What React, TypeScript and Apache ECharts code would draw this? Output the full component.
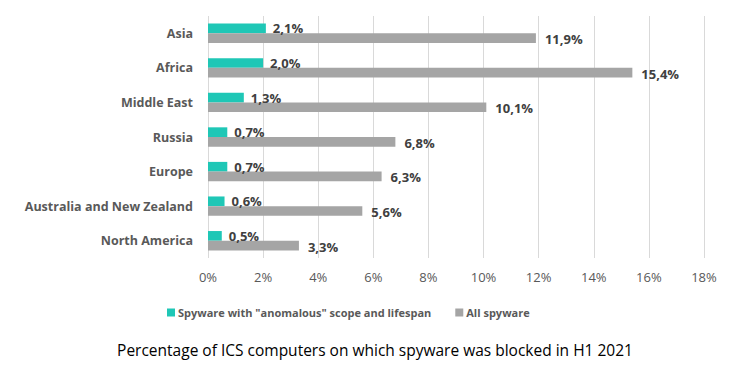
import React, { useEffect, useRef } from "react";
import * as echarts from "echarts";

const categories = ["Asia", "Africa", "Middle East", "Russia", "Europe", "Australia and New Zealand", "North America"];
const anomalous = [2.1, 2.0, 1.3, 0.7, 0.7, 0.6, 0.5];
const allSpyware = [11.9, 15.4, 10.1, 6.8, 6.3, 5.6, 3.3];
const seriesNames = ['Spyware with "anomalous" scope and lifespan', "All spyware"];
const title = "Percentage of ICS computers on which spyware was blocked in H1 2021";

const fmt = (v: number) => v.toFixed(1).replace(".", ",") + "%";
const FONT = "'Open Sans', 'Noto Sans', sans-serif";

export default function App() {
  const ref = useRef<HTMLDivElement>(null);
  useEffect(() => {
    if (!ref.current) return;
    const chart = echarts.init(ref.current, null, { renderer: "svg" });
    chart.setOption({
      animation: false,
      backgroundColor: "#ffffff",
      textStyle: { fontFamily: FONT },
      title: {
        text: title,
        left: "center",
        top: 337,
        textStyle: { fontFamily: FONT, fontSize: 15.5, fontWeight: "normal", color: "#000000" },
      },
      legend: {
        data: seriesNames,
        top: 302,
        left: 162,
        itemWidth: 8,
        itemHeight: 8,
        itemGap: 24,
        icon: "rect",
        textStyle: { fontFamily: FONT, fontSize: 11, fontWeight: "bold", color: "#595959", padding: [0, 0, 0, -2] },
      },
      grid: { left: 208, right: 46, top: 16, bottom: 110, containLabel: false },
      xAxis: {
        type: "value",
        min: 0,
        max: 18,
        interval: 2,
        axisLine: { show: false },
        axisTick: { show: false },
        axisLabel: {
          formatter: (v: number) => v + "%",
          fontFamily: FONT,
          fontSize: 13,
          color: "#595959",
          margin: 12,
        },
        splitLine: { lineStyle: { color: "#d9d9d9", width: 1 } },
      },
      yAxis: {
        type: "category",
        data: categories,
        inverse: true,
        axisLine: { show: false },
        axisTick: { show: false },
        axisLabel: {
          fontFamily: FONT,
          fontSize: 12.5,
          fontWeight: "bold",
          color: "#595959",
          margin: 15,
        },
      },
      series: [
        {
          name: seriesNames[0],
          type: "bar",
          data: anomalous,
          barGap: "0%",
          barCategoryGap: "44%",
          itemStyle: { color: "#1fc7b6" },
          label: {
            show: true,
            position: "right",
            distance: 7,
            formatter: (p: any) => fmt(p.value),
            fontFamily: FONT,
            fontSize: 13,
            fontWeight: "bold",
            color: "#404040",
          },
        },
        {
          name: seriesNames[1],
          type: "bar",
          data: allSpyware,
          barGap: "0%",
          barCategoryGap: "44%",
          itemStyle: { color: "#a5a5a5" },
          label: {
            show: true,
            position: "right",
            distance: 9,
            offset: [0, 1],
            formatter: (p: any) => fmt(p.value),
            fontFamily: FONT,
            fontSize: 13,
            fontWeight: "bold",
            color: "#404040",
          },
        },
      ],
    });
    return () => chart.dispose();
  }, []);
  return <div ref={ref} style={{ position: "fixed", left: 0, top: 0, width: 750, height: 368 }} />;
}
